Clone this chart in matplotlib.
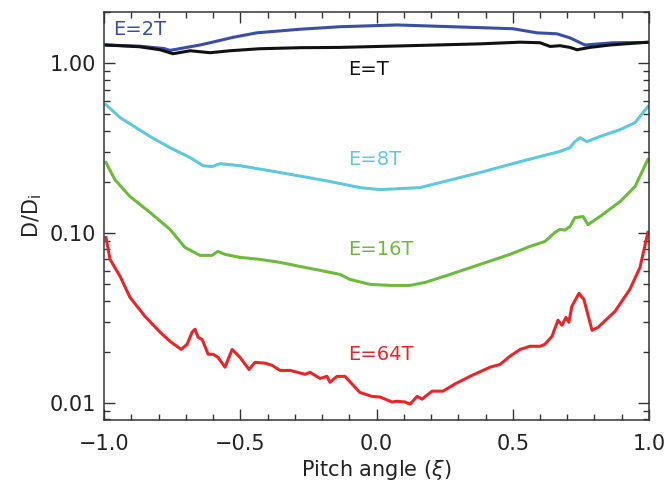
import matplotlib
matplotlib.use("Agg")
import matplotlib.pyplot as plt
import numpy as np
from matplotlib.ticker import FixedLocator, LogLocator, MultipleLocator, NullFormatter

plt.rcParams["font.family"] = ["DejaVu Sans"]

# E = 2T (blue)
xi_2t = [-0.993, -0.870, -0.780, -0.758, -0.648, -0.611, -0.527, -0.439, -0.281,
         -0.134, 0.075, 0.380, 0.501, 0.589, 0.662, 0.710, 0.765, 0.868, 0.996]
d_2t = [1.28, 1.26, 1.22, 1.19, 1.28, 1.32, 1.42, 1.51, 1.585,
        1.64, 1.68, 1.62, 1.596, 1.51, 1.49, 1.41, 1.28, 1.32, 1.325]

# E = T (black)
xi_1t = [-0.993, -0.870, -0.794, -0.747, -0.684, -0.611, -0.538, -0.428, -0.281,
         -0.134, 0.160, 0.380, 0.527, 0.600, 0.637, 0.673, 0.710, 0.736, 0.783,
         0.857, 0.996]
d_1t = [1.28, 1.25, 1.20, 1.137, 1.184, 1.153, 1.184, 1.217, 1.234,
        1.239, 1.273, 1.30, 1.33, 1.32, 1.255, 1.268, 1.239, 1.20, 1.239,
        1.28, 1.33]

# E = 8T (cyan)
xi_8t = [-0.993, -0.941, -0.831, -0.758, -0.684, -0.637, -0.604, -0.574, -0.501,
         -0.354, -0.207, -0.171, -0.061, 0.013, 0.160, 0.233, 0.380, 0.527, 0.600,
         0.673, 0.710, 0.728, 0.747, 0.772, 0.820, 0.894, 0.949, 0.996]
d_8t = [0.570, 0.478, 0.370, 0.318, 0.278, 0.249, 0.246, 0.256, 0.249,
        0.227, 0.206, 0.201, 0.185, 0.180, 0.185, 0.198, 0.227, 0.263, 0.282,
        0.302, 0.318, 0.345, 0.364, 0.345, 0.370, 0.406, 0.447, 0.555]

# E = 16T (green)
xi_16t = [-0.993, -0.960, -0.905, -0.831, -0.758, -0.721, -0.703, -0.648, -0.604,
          -0.582, -0.556, -0.501, -0.428, -0.354, -0.281, -0.207, -0.134, -0.097,
          -0.024, 0.050, 0.123, 0.178, 0.270, 0.380, 0.490, 0.563, 0.618, 0.655,
          0.673, 0.692, 0.710, 0.728, 0.758, 0.776, 0.820, 0.894, 0.949, 0.996]
d_16t = [0.260, 0.206, 0.164, 0.132, 0.105, 0.0891, 0.0822, 0.0738, 0.0738,
         0.0779, 0.0748, 0.0718, 0.0699, 0.0671, 0.0635, 0.0602, 0.0570, 0.0532,
         0.0498, 0.0491, 0.0491, 0.0511, 0.0570, 0.0653, 0.0748, 0.0833, 0.0891, 0.1007,
         0.105, 0.104, 0.109, 0.123, 0.125, 0.112, 0.125, 0.153, 0.188, 0.271]

# E = 64T (red)
xi_64t = [-0.993, -0.978, -0.941, -0.905, -0.850, -0.794, -0.758, -0.717, -0.695,
          -0.677, -0.666, -0.655, -0.640, -0.618, -0.600, -0.582, -0.556, -0.530,
          -0.501, -0.468, -0.446, -0.409, -0.383, -0.354, -0.317, -0.262, -0.244,
          -0.207, -0.182, -0.171, -0.145, -0.116, -0.061, -0.017, 0.013, 0.057,
          0.075, 0.105, 0.123, 0.149, 0.167, 0.204, 0.244, 0.288, 0.343, 0.417,
          0.453, 0.490, 0.527, 0.563, 0.600, 0.618, 0.644, 0.666, 0.681, 0.695,
          0.706, 0.717, 0.743, 0.761, 0.791, 0.813, 0.875, 0.930, 0.967, 0.996]
d_64t = [0.094, 0.0699, 0.0555, 0.0418, 0.0323, 0.0260, 0.0230, 0.0206, 0.0221,
         0.0260, 0.0271, 0.0243, 0.0236, 0.0193, 0.0193, 0.0185, 0.0162, 0.0206,
         0.0185, 0.0157, 0.0173, 0.0171, 0.0166, 0.0155, 0.0155, 0.0147, 0.0151,
         0.0139, 0.0143, 0.0132, 0.0143, 0.0143, 0.0115, 0.0109, 0.0108, 0.0101,
         0.0102, 0.0101, 0.0098, 0.0109, 0.0105, 0.0117, 0.0117, 0.0129, 0.0143, 0.0162,
         0.0168, 0.0188, 0.0206, 0.0215, 0.0215, 0.0221, 0.0246, 0.0306, 0.0286, 0.0318,
         0.0298, 0.0370, 0.0441, 0.0406, 0.0267, 0.0278, 0.0345, 0.0466, 0.0627, 0.1007]

series = [
    (xi_2t, d_2t, "#3b4ea6", "E=2T", -0.967, 1.574),
    (xi_1t, d_1t, "#111111", "E=T", -0.105, 0.916),
    (xi_8t, d_8t, "#5ec8dc", "E=8T", -0.105, 0.271),
    (xi_16t, d_16t, "#6cbb3c", "E=16T", -0.105, 0.080),
    (xi_64t, d_64t, "#e8262a", "E=64T", -0.105, 0.0193),
]

fig = plt.figure(figsize=(6.67, 4.84), dpi=100)
ax = fig.add_axes([0.156, 0.132, 0.817, 0.843])

for xs, ys, col, label, tx, ty in series:
    ax.plot(xs, ys, color=col, linewidth=2.2)
    ax.text(tx, ty, label, color=col, fontsize=14, va="center", ha="left")

ax.set_yscale("log")
ax.set_xlim(-1, 1)
ax.set_ylim(0.0079, 2.0)

ax.set_xticks([-1.0, -0.5, 0.0, 0.5, 1.0])
ax.set_xticklabels(["\u22121.0", "\u22120.5", "0.0", "0.5", "1.0"])
ax.xaxis.set_minor_locator(MultipleLocator(0.1))
ax.yaxis.set_major_locator(FixedLocator([0.01, 0.1, 1.0]))
ax.yaxis.set_minor_locator(LogLocator(base=10, subs=np.arange(2, 10)))
ax.yaxis.set_minor_formatter(NullFormatter())
ax.set_yticklabels(["0.01", "0.10", "1.00"])

ax.tick_params(which="both", direction="in", top=True, right=True,
               labelsize=15, width=1, color="#333333", labelcolor="#222222")
ax.tick_params(which="major", length=8)
ax.tick_params(which="minor", length=4)
ax.tick_params(axis="x", which="major", pad=10)
ax.tick_params(axis="y", which="major", pad=6)
for sp in ax.spines.values():
    sp.set_linewidth(1.1)
    sp.set_color("#333333")

ax.set_xlabel("Pitch angle ($\\xi$)", fontsize=15, labelpad=3, color="#222222")
ax.set_ylabel("D/D$_\\mathregular{i}$", fontsize=15, labelpad=4, color="#222222")

fig.savefig("out.png", dpi=100)
